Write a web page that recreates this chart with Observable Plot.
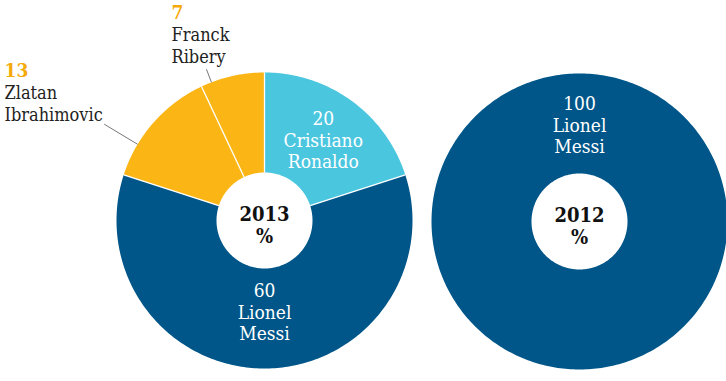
<!DOCTYPE html>
<html>
<head>
<meta charset="utf-8">
<script src="https://cdn.jsdelivr.net/npm/d3@7"></script>
<script src="https://cdn.jsdelivr.net/npm/@observablehq/plot@0.6"></script>
<style>
  html, body { margin: 0; padding: 0; background: #fff; }
  #chart { width: 726px; height: 381px; }
</style>
</head>
<body>
<div id="chart"></div>
<script>
// ---- data ----
const years = ["2013", "2012"];
const players2013 = ["Cristiano Ronaldo", "Lionel Messi", "Zlatan Ibrahimovic", "Franck Ribery"];
const shares2013 = [20, 60, 13, 7];
const players2012 = ["Lionel Messi"];
const shares2012 = [100];
const playerNames = ["Cristiano Ronaldo", "Lionel Messi", "Zlatan Ibrahimovic", "Franck Ribery"];
const playerColors = ["#4bc6df", "#005689", "#fbb616", "#fbb616"];

// ---- layout (not data) ----
const W = 726, H = 381;
const centers = {"2013": [264, 220], "2012": [579, 221]};
const rOuter = 148, rInner = 48;
const labelR = {"2013|Cristiano Ronaldo": 100, "2013|Lionel Messi": 91, "2012|Lionel Messi": 97};
const external = {
  "2013|Zlatan Ibrahimovic": {angle: 301, r1: 187, x: 4, y: 70},
  "2013|Franck Ribery": {angle: 339, r1: 162, x: 171, y: 12}
};

const sets = {"2013": [players2013, shares2013], "2012": [players2012, shares2012]};
const rad = Math.PI / 180;
const pt = (c, r, a) => [c[0] + r * Math.sin(a), c[1] - r * Math.cos(a)];

const polys = [], seps = [], inLabels = [], extNums = [], extNames = [], leaders = [], centerYears = [], centerPct = [];
for (const year of years) {
  const [names, vals] = sets[year];
  const rows = names.map((n, i) => ({name: n, share: vals[i]}));
  const arcs = d3.pie().sort(null).value(d => d.share)(rows);
  const c = centers[year];
  for (const a of arcs) {
    const id = year + "|" + a.data.name;
    const n = Math.max(2, Math.ceil((a.endAngle - a.startAngle) / (2 * Math.PI) * 360));
    for (let i = 0; i <= n; i++) {
      const t = a.startAngle + (a.endAngle - a.startAngle) * i / n;
      const [x, y] = pt(c, rOuter, t);
      polys.push({id, player: a.data.name, x, y});
    }
    for (let i = n; i >= 0; i--) {
      const t = a.startAngle + (a.endAngle - a.startAngle) * i / n;
      const [x, y] = pt(c, rInner, t);
      polys.push({id, player: a.data.name, x, y});
    }
    if (arcs.length > 1) {
      const [x1, y1] = pt(c, rInner, a.startAngle);
      const [x2, y2] = pt(c, rOuter, a.startAngle);
      seps.push({x1, y1, x2, y2});
    }
    const full = a.endAngle - a.startAngle >= 2 * Math.PI - 1e-6;
    if (labelR[id] !== undefined) {
      const mid = full ? 0 : (a.startAngle + a.endAngle) / 2;
      const [x, y] = pt(c, labelR[id], mid);
      const parts = a.data.name.split(" ");
      inLabels.push({x, y, text: [a.data.share, ...parts].join("\n")});
    } else if (external[id]) {
      const e = external[id];
      const [x1, y1] = pt(c, rOuter, e.angle * rad);
      const [x2, y2] = pt(c, e.r1, e.angle * rad);
      leaders.push({x1, y1, x2, y2});
      extNums.push({x: e.x, y: e.y, text: String(a.data.share)});
      const parts = a.data.name.split(" ");
      extNames.push({x: e.x, y: e.y + 22 + (parts.length - 1) * 21.6 / 2, text: parts.join("\n")});
    }
  }
  centerYears.push({x: c[0], y: c[1] - 6, text: year});
  centerPct.push({x: c[0], y: c[1] + 16, text: "%"});
}

const font = "'DejaVu Serif Condensed', 'DejaVu Serif', serif";
const chart = Plot.plot({
  width: W, height: H,
  margin: 0,
  x: {domain: [0, W], range: [0, W], axis: null},
  y: {domain: [0, H], range: [0, H], axis: null},
  color: {domain: playerNames, range: playerColors},
  style: {fontFamily: font, background: "#fff"},
  marks: [
    Plot.line(polys, {x: "x", y: "y", z: "id", fill: "player", stroke: "none", curve: "linear"}),
    Plot.link(seps, {x1: "x1", y1: "y1", x2: "x2", y2: "y2", stroke: "#fff", strokeWidth: 1.3}),
    Plot.link(leaders, {x1: "x1", y1: "y1", x2: "x2", y2: "y2", stroke: "#777", strokeWidth: 1}),
    Plot.text(inLabels, {x: "x", y: "y", text: "text", fill: "#fff", fontSize: 19, lineHeight: 1.15, fontFamily: font}),
    Plot.text(extNums, {x: "x", y: "y", text: "text", fill: "#f5aa0a", fontSize: 19, fontWeight: "bold", textAnchor: "start", fontFamily: font}),
    Plot.text(extNames, {x: "x", y: "y", text: "text", fill: "#222", fontSize: 18, lineHeight: 1.2, textAnchor: "start", fontFamily: font}),
    Plot.text(centerYears, {x: "x", y: "y", text: "text", fill: "#111", fontSize: 20, fontWeight: "bold", fontFamily: font}),
    Plot.text(centerPct, {x: "x", y: "y", text: "text", fill: "#111", fontSize: 20, fontWeight: "bold", fontFamily: font})
  ]
});
document.getElementById("chart").appendChild(chart);
</script>
</body>
</html>
